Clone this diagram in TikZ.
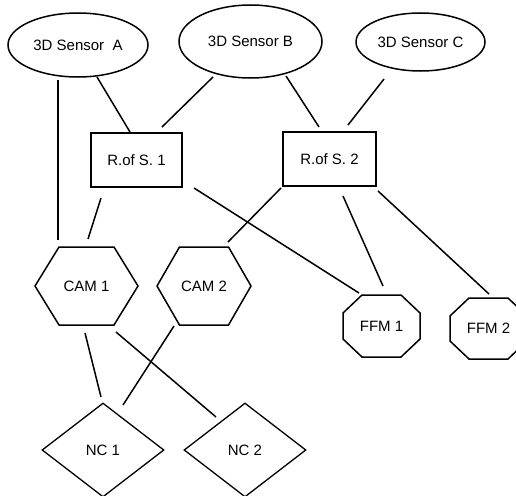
\documentclass[tikz,border=0pt]{standalone}
\usepackage{fontspec}
\setmainfont{Liberation Sans}
\usetikzlibrary{shapes.geometric,calc}
\begin{document}
\begin{tikzpicture}[x=1pt,y=-1pt,
  every node/.style={font=\fontsize{15}{18}\selectfont, inner sep=0pt},
  sensor/.style={ellipse, draw, line width=1.5pt},
  rofs/.style={rectangle, draw, line width=1.5pt, minimum height=54pt},
  ncbox/.style={diamond, draw, line width=1.3pt, minimum width=122pt, minimum height=94pt},
  plain/.style={draw=none},
  outline/.style={line width=1.5pt, line join=miter},
  link/.style={line width=1.5pt}]
\useasboundingbox (0,0) rectangle (516,495);
% sensors
\node[sensor, minimum width=140pt, minimum height=64pt] (A) at (78,45) {3D Sensor~ A};
\node[sensor, minimum width=143pt, minimum height=73pt] (B) at (250.5,41.5) {3D Sensor B};
\node[sensor, minimum width=129pt, minimum height=58pt] (C) at (420.5,42) {3D Sensor C};
% reduction nodes
\node[rofs, minimum width=91pt] (R1) at (136.5,160) {R.of S. 1};
\node[rofs, minimum width=93pt] (R2) at (329.5,159) {R.of S. 2};
% cams (hexagons)
\node[plain] (c1) at (86.5,286) {CAM 1};
\node[plain] (c2) at (204,286) {CAM 2};
\draw[outline] ($(c1)+(-51.5,0)$) -- ++(24,-39) -- ++(55,0) -- ++(24,39) -- ++(-24,39) -- ++(-55,0) -- cycle;
\draw[outline] ($(c2)+(-47,0)$) -- ++(22.5,-39) -- ++(49,0) -- ++(22.5,39) -- ++(-22.5,39) -- ++(-49,0) -- cycle;
% ffm (octagons)
\node[plain] (f1) at (381.5,326) {FFM 1};
\node[plain] (f2) at (488.5,328.5) {FFM 2};
\draw[outline] ($(f1)+(-38.5,-13)$) -- ++(19,-18) -- ++(39,0) -- ++(19,18) -- ++(0,26) -- ++(-19,18) -- ++(-39,0) -- ++(-19,-18) -- cycle;
\draw[outline] ($(f2)+(-38.5,-12.5)$) -- ++(19,-18) -- ++(39,0) -- ++(19,18) -- ++(0,25) -- ++(-19,18) -- ++(-39,0) -- ++(-19,-18) -- cycle;
% nc (diamonds)
\node[ncbox] (n1) at (103,450) {NC 1};
\node[ncbox] (n2) at (245,450) {NC 2};
% connectors
\draw[link] ($(A)+(-20,35)$) -- ($(c1)+(-28.5,-46)$);
\draw[link] ($(A)+(19,32)$) -- ($(R1)+(-6.5,-28)$);
\draw[link] ($(B)+(-37.5,35.5)$) -- ($(R1)+(25.5,-33)$);
\draw[link] ($(B)+(35.5,34.5)$) -- ($(R2)+(-10.5,-32)$);
\draw[link] ($(C)+(-36.5,37)$) -- ($(R2)+(18.5,-34)$);
\draw[link] ($(R1)+(-35.5,38)$) -- ($(c1)+(1.5,-47)$);
\draw[link] ($(R1)+(57.5,28)$) -- ($(f1)+(-22.5,-33)$);
\draw[link] ($(R2)+(-48.5,29)$) -- ($(c2)+(24,-44)$);
\draw[link] ($(R2)+(13.5,37)$) -- ($(f1)+(1.5,-40)$);
\draw[link] ($(R2)+(48.5,32)$) -- ($(f2)+(0.5,-34.5)$);
\draw[link] ($(c1)+(-1.5,47)$) -- ($(n1)+(-2,-53)$);
\draw[link] ($(c1)+(29.5,46)$) -- ($(n2)+(-29,-33)$);
\draw[link] ($(c2)+(-30,40)$) -- ($(n1)+(20,-45)$);
\end{tikzpicture}
\end{document}
